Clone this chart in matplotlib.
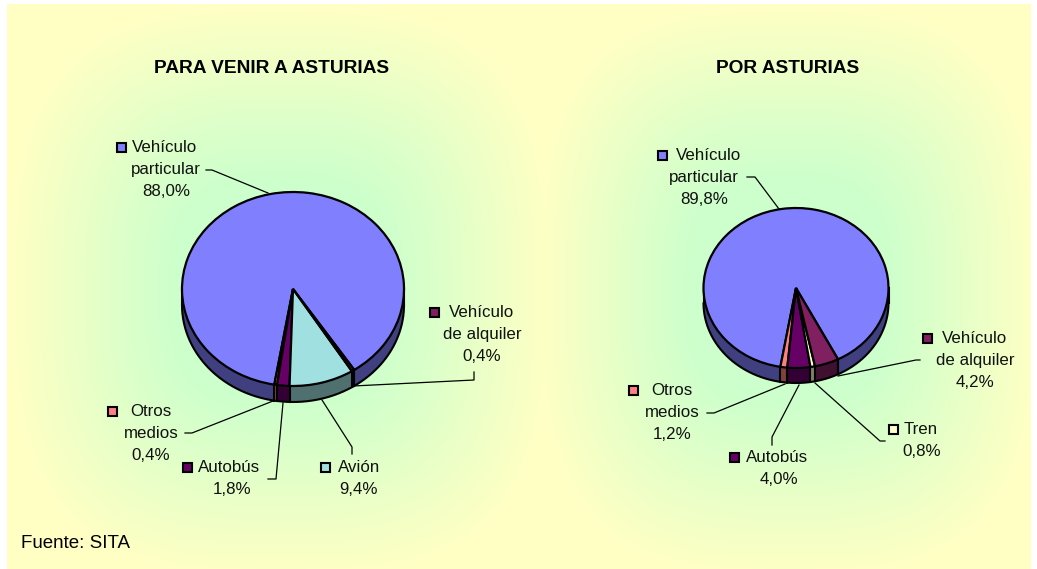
import numpy as np
import matplotlib
matplotlib.use('Agg')
import matplotlib.pyplot as plt
from matplotlib.colors import to_rgb

plt.rcParams['font.family'] = ['Liberation Sans', 'DejaVu Sans']

W, H = 1037, 569

titles = ['PARA VENIR A ASTURIAS', 'POR ASTURIAS']
cat_a = ['Vehículo particular', 'Otros medios', 'Autobús', 'Avión', 'Vehículo de alquiler']
val_a = [88.0, 0.4, 1.8, 9.4, 0.4]
col_a = ['#8080FF', '#FF8080', '#660066', '#A0E0E0', '#802060']
cat_b = ['Vehículo particular', 'Otros medios', 'Autobús', 'Tren', 'Vehículo de alquiler']
val_b = [89.8, 1.2, 4.0, 0.8, 4.2]
col_b = ['#8080FF', '#FF8080', '#660066', '#FFFFCC', '#802060']
source = 'Fuente: SITA'

fig = plt.figure(figsize=(W / 100, H / 100), dpi=100, facecolor='white')

bg = fig.add_axes([0, 0, 1, 1], zorder=0)
X, Y = np.meshgrid(np.arange(7, 1031), np.arange(4, 569))
def blob(cx, cy, sx, sy):
    d = ((np.abs(X - cx) / sx) ** 3 + (np.abs(Y - cy) / sy) ** 3) ** (1 / 3)
    return np.clip((1 - d) / 0.62, 0, 1)
t = np.maximum(blob(280, 290, 270, 285), blob(788, 290, 250, 285))
c0, c1 = np.array(to_rgb('#FFFFC4')), np.array(to_rgb('#CCFFCC'))
img = c0 + (c1 - c0) * t[..., None]
bg.imshow(img, extent=(7, 1031, 569, 4), aspect='auto', interpolation='bilinear', zorder=0)
bg.set_xlim(0, W); bg.set_ylim(H, 0); bg.axis('off')


def pie3d(vals, cols, cx, cy, rx, ry, depth, start):
    ax = fig.add_axes([(cx - rx - 2) / W, 1 - (cy + ry + depth + 2) / H,
                       (2 * rx + 4) / W, (2 * ry + depth + 4) / H], zorder=2)
    dark = [tuple(0.5 * np.array(to_rgb(c))) for c in cols]
    uy = 1 / ry
    for k in np.arange(depth, 0, -1.0):
        ax.pie(vals, colors=dark, startangle=start, counterclock=True, radius=1,
               center=(0, -k * uy), wedgeprops=dict(linewidth=0), normalize=True)
    th = np.linspace(np.pi, 2 * np.pi, 200)
    ax.plot(np.cos(th), np.sin(th) - depth * uy, color='k', lw=1.5, zorder=5, solid_capstyle='round')
    ax.plot([-1, -1], [0, -depth * uy], color='k', lw=1.5, zorder=5)
    ax.plot([1, 1], [0, -depth * uy], color='k', lw=1.5, zorder=5)
    a = start + np.cumsum([0] + list(vals)) * 3.6
    for ang in np.deg2rad(a):
        if np.sin(ang) < 0:
            ax.plot([np.cos(ang)] * 2, [np.sin(ang), np.sin(ang) - depth * uy], color='k', lw=1.5, zorder=5)
    ax.pie(vals, colors=cols, startangle=start, counterclock=True, radius=1,
           wedgeprops=dict(linewidth=1.6, edgecolor='k', zorder=6), normalize=True)
    ax.set_aspect('auto')
    ax.set_xlim(-1 - 2 / rx, 1 + 2 / rx)
    ax.set_ylim(-1 - (depth + 2) * uy, 1 + 2 * uy)
    ax.axis('off')
    ax.patch.set_alpha(0)


pie3d(val_a, col_a, 293, 289, 111, 97, 16, -56.5)
pie3d(val_b, col_b, 796, 288, 92.5, 80, 15, -63)

FS = 12.2
TXT = '#111111'
fg = fig.add_axes([0, 0, 1, 1], zorder=5)
fg.set_xlim(0, W); fg.set_ylim(H, 0); fg.axis('off'); fg.patch.set_alpha(0)

def label(lines, cx, ytop, key=None, color=None):
    for i, s in enumerate(lines):
        fg.text(cx, ytop + 22 * i, s, ha='center', va='center', fontsize=FS, color=TXT)
    if key is not None:
        fg.add_patch(plt.Rectangle((key[0], key[1] - 4.5), 9, 9, fc=color, ec='k', lw=1.5))

def leader(xs, ys):
    fg.plot(xs, ys, color='k', lw=0.9)

fg.text(272, 68, titles[0], ha='center', va='center', fontsize=13.8, fontweight='bold')
fg.text(788, 68, titles[1], ha='center', va='center', fontsize=13.8, fontweight='bold')
fg.text(21, 544, source, ha='left', va='center', fontsize=13.5)

# left pie
label(['Vehículo'], 165, 147, (117, 147), col_a[0])
label(['particular', '88,0%'], 166, 169)
leader([206, 212, 268], [170, 170, 193])
label(['Vehículo', 'de alquiler', '0,4%'], 482, 312)
fg.add_patch(plt.Rectangle((430, 307.5), 9, 9, fc=col_a[4], ec='k', lw=1.5))
leader([353, 474, 474], [386, 380, 372])
label(['Otros'], 151, 411, (108, 411), col_a[1])
label(['medios', '0,4%'], 151, 433)
leader([185, 192, 273], [433, 433, 401])
label(['Autobús'], 229, 467, (183, 467), col_a[2])
label(['1,8%'], 232, 489)
leader([268, 276, 283], [479, 479, 403])
label(['Avión'], 359, 467, (321, 467), col_a[3])
label(['9,4%'], 359, 489)
leader([322, 352, 352], [400, 447, 454])

# right pie
label(['Vehículo'], 709, 155, (658, 155), col_b[0])
label(['particular', '89,8%'], 704, 177)
leader([747, 755, 779], [177, 177, 209])
label(['Vehículo', 'de alquiler', '4,2%'], 975, 338)
fg.add_patch(plt.Rectangle((923, 333.5), 9, 9, fc=col_b[4], ec='k', lw=1.5))
leader([838, 916, 920], [376, 360, 360])
label(['Otros'], 672, 390, (629, 390), col_b[1])
label(['medios', '1,2%'], 672, 412)
leader([707, 714, 785], [413, 413, 384])
label(['Autobús'], 777, 457, (730, 457), col_b[2])
label(['4,0%'], 779, 479)
leader([772, 772, 799], [445, 437, 385])
label(['Tren'], 921, 429, (889, 429), col_b[3])
label(['0,8%'], 922, 451)
leader([885, 880, 815], [441, 441, 383])

fig.savefig('out.png', dpi=100, facecolor='white')
